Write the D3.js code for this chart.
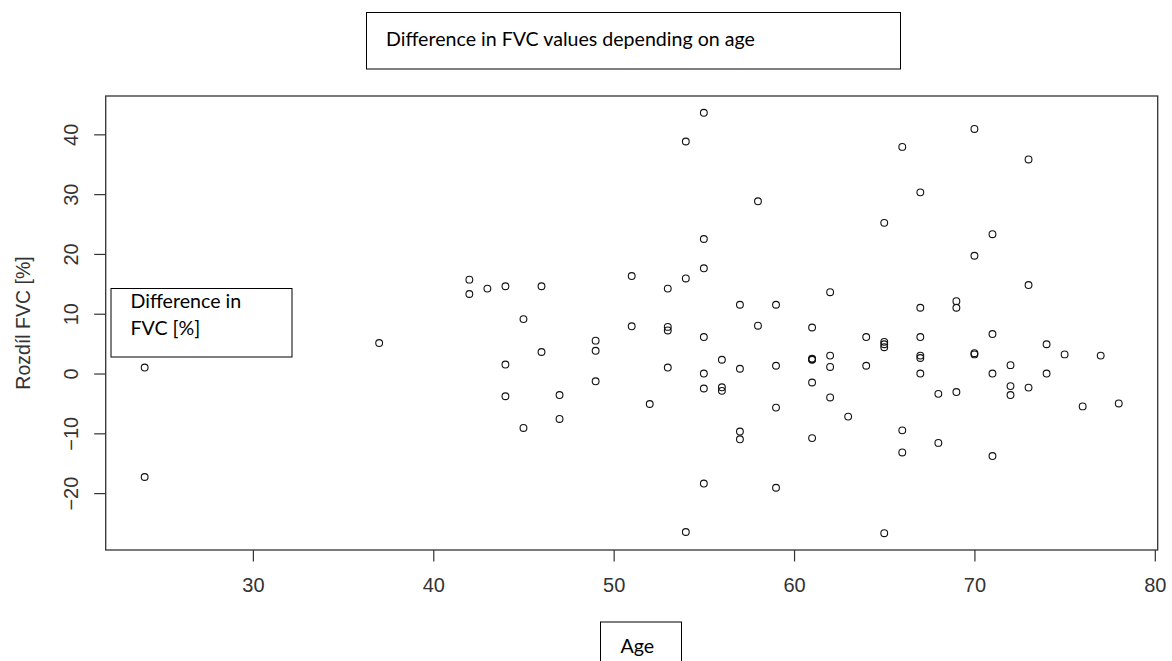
<!DOCTYPE html>
<html>
<head>
<meta charset="utf-8">
<script src="https://cdn.jsdelivr.net/npm/d3@7"></script>
<style>
  html, body { margin: 0; padding: 0; background: #fff; }
  svg { display: block; }
</style>
</head>
<body>
<svg id="chart" width="1172" height="661"></svg>
<script>
// Age of each subject (years)
const ages = [
  24, 24, 37,
  42, 42, 43, 44, 44, 44, 45, 45, 46, 46, 47, 47,
  49, 49, 49, 51, 51, 52, 53, 53, 53, 53,
  54, 54, 54, 55, 55, 55, 55, 55, 55, 55,
  56, 56, 56, 57, 57, 57, 57, 58, 58,
  59, 59, 59, 59, 61, 61, 61, 61, 61, 61,
  62, 62, 62, 62, 63, 64, 64, 65, 65, 65, 65, 65,
  66, 66, 66, 67, 67, 67, 67, 67, 67, 68, 68,
  69, 69, 69, 70, 70, 70, 70, 71, 71, 71, 71,
  72, 72, 72, 73, 73, 73, 74, 74, 75, 76, 77, 78
];

// Difference in FVC (%) for each subject, same order as ages
const fvcDiff = [
  1.0, -17.3, 5.1,
  15.7, 13.3, 14.2, 14.6, 1.5, -3.8, 9.1, -9.1, 14.6, 3.6, -3.6, -7.6,
  5.5, 3.8, -1.3, 16.3, 7.9, -5.1, 14.2, 7.8, 7.2, 1.0,
  38.8, 15.9, -26.5, 43.6, 22.5, 17.6, 6.1, 0.0, -2.5, -18.4,
  2.3, -2.3, -2.9, 11.5, 0.8, -9.7, -11.0, 28.8, 8.0,
  11.5, 1.3, -5.7, -19.1, 7.7, 2.5, 2.3, -1.5, -10.8, 2.4,
  13.6, 3.0, 1.1, -4.0, -7.2, 6.1, 1.3, 25.2, 5.3, 4.9, 4.4, -26.7,
  37.9, -9.5, -13.2, 30.3, 11.0, 6.1, 3.0, 2.6, 0.0, -3.4, -11.6,
  12.1, 11.0, -3.1, 40.9, 19.7, 3.4, 3.2, 23.3, 6.6, 0.0, -13.8,
  1.4, -2.1, -3.6, 35.8, 14.8, -2.35, 4.9, 0.0, 3.2, -5.5, 3.0, -5.0
];

// Axis tick values
const xTicks = [30, 40, 50, 60, 70, 80];
const yTicks = [-20, -10, 0, 10, 20, 30, 40];

// Text labels
const titleText = "Difference in FVC values depending on age";
const yAxisTitle = "Rozdíl FVC [%]";
const yNoteLines = ["Difference in", "FVC [%]"];
const xNoteText = "Age";

const points = ages.map((a, i) => ({ age: a, diff: fvcDiff[i] }));

const svg = d3.select("#chart");
const plot = { left: 105.7, right: 1157.7, top: 96, bottom: 550 };

// Data range padded by 4% on each side
function padded(ext) {
  const pad = (ext[1] - ext[0]) * 0.04;
  return [ext[0] - pad, ext[1] + pad];
}

const x = d3.scaleLinear()
  .domain(padded(d3.extent(ages)))
  .range([plot.left, plot.right]);

const y = d3.scaleLinear()
  .domain(padded(d3.extent(fvcDiff)))
  .range([plot.bottom, plot.top]);

const axisFont = "'Liberation Sans', Arial, sans-serif";
const noteFont = "Lato, 'Open Sans', sans-serif";
const axisColor = "#333";

// Bottom axis
const gx = svg.append("g")
  .attr("transform", `translate(0,${plot.bottom})`)
  .call(d3.axisBottom(x).tickValues(xTicks).tickSize(11.5).tickPadding(16.5).tickFormat(d3.format("d")));
gx.select(".domain").remove();
gx.selectAll(".tick line").attr("stroke", axisColor).attr("stroke-width", 1.2);
gx.selectAll(".tick text")
  .attr("fill", axisColor)
  .style("font-family", axisFont)
  .style("font-size", "20px");

// Left axis with labels rotated parallel to the axis
const gy = svg.append("g")
  .attr("transform", `translate(${plot.left},0)`)
  .call(d3.axisLeft(y).tickValues(yTicks).tickSize(11.5).tickFormat(d3.format("d")));
gy.select(".domain").remove();
gy.selectAll(".tick line").attr("stroke", axisColor).attr("stroke-width", 1.2);
gy.selectAll(".tick text")
  .attr("x", null)
  .attr("dy", null)
  .attr("text-anchor", "middle")
  .attr("transform", `translate(${78 - plot.left},0) rotate(-90)`)
  .attr("fill", axisColor)
  .style("font-family", axisFont)
  .style("font-size", "20px");

// Y axis title
svg.append("text")
  .attr("transform", `translate(30,${(plot.top + plot.bottom) / 2}) rotate(-90)`)
  .attr("text-anchor", "middle")
  .attr("fill", axisColor)
  .style("font-family", axisFont)
  .style("font-size", "19.5px")
  .text(yAxisTitle);

// Plot frame
svg.append("rect")
  .attr("x", plot.left)
  .attr("y", plot.top)
  .attr("width", plot.right - plot.left)
  .attr("height", plot.bottom - plot.top)
  .attr("fill", "none")
  .attr("stroke", axisColor)
  .attr("stroke-width", 1.3);

// Open circle markers
svg.append("g")
  .selectAll("circle")
  .data(points)
  .join("circle")
  .attr("cx", d => x(d.age))
  .attr("cy", d => y(d.diff))
  .attr("r", 3.4)
  .attr("fill", "none")
  .attr("stroke", "#111")
  .attr("stroke-width", 1.1);

// Text boxes
function noteBox(x0, y0, w, h) {
  svg.append("rect")
    .attr("x", x0).attr("y", y0)
    .attr("width", w).attr("height", h)
    .attr("fill", "#fff")
    .attr("stroke", "#000")
    .attr("stroke-width", 1);
}

noteBox(366.5, 12.5, 534, 56.5);
svg.append("text")
  .attr("x", 386).attr("y", 46)
  .attr("fill", "#000")
  .style("font-family", noteFont)
  .style("font-size", "19.6px")
  .text(titleText);

noteBox(111, 288.5, 181, 68.5);
svg.selectAll(".ynote")
  .data(yNoteLines)
  .join("text")
  .attr("class", "ynote")
  .attr("x", 130.5)
  .attr("y", (d, i) => 308 + i * 27)
  .attr("fill", "#000")
  .style("font-family", noteFont)
  .style("font-size", "19.6px")
  .text(d => d);

noteBox(600.5, 622, 81, 50);
svg.append("text")
  .attr("x", 620.5).attr("y", 653)
  .attr("fill", "#000")
  .style("font-family", noteFont)
  .style("font-size", "19.6px")
  .text(xNoteText);
</script>
</body>
</html>
